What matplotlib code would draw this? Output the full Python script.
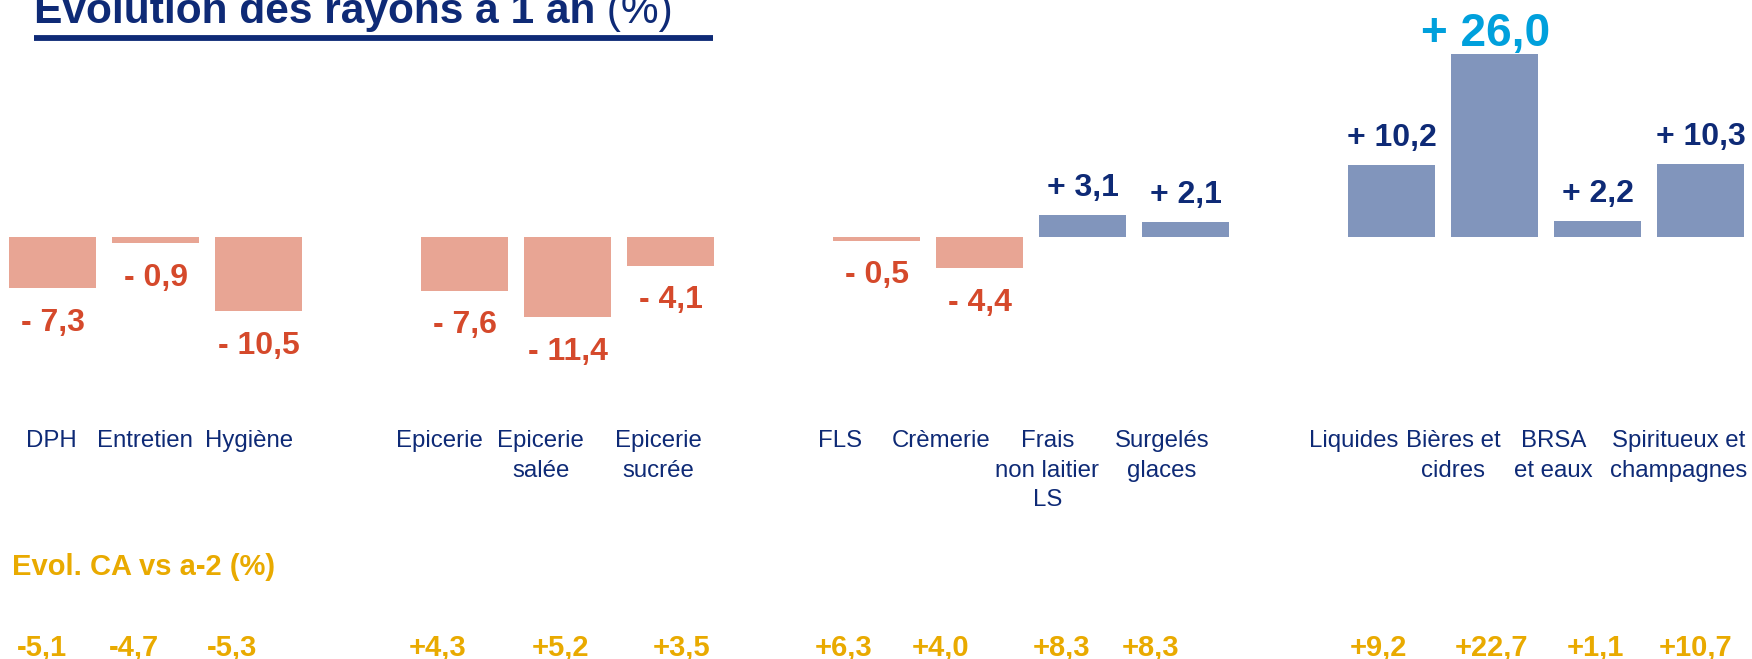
import numpy as np
import matplotlib
matplotlib.use("Agg")
import matplotlib.pyplot as plt

plt.rcParams['font.family'] = ['Liberation Sans', 'DejaVu Sans']

# data
categories = ["DPH", "Entretien", "Hygiène",
              "Epicerie", "Epicerie\nsalée", "Epicerie\nsucrée",
              "FLS", "Crèmerie", "Frais\nnon laitier\nLS", "Surgelés\nglaces",
              "Liquides", "Bières et\ncidres", "BRSA\net eaux", "Spiritueux et\nchampagnes"]
group_sizes = [3, 3, 4, 4]
evol_1an = [-7.3, -0.9, -10.5, -7.6, -11.4, -4.1, -0.5, -4.4, 3.1, 2.1, 10.2, 26.0, 2.2, 10.3]
evol_a2 = [-5.1, -4.7, -5.3, 4.3, 5.2, 3.5, 6.3, 4.0, 8.3, 8.3, 9.2, 22.7, 1.1, 10.7]

# layout nudges (slot units) for the text rows under the bars
cat_shift = [-0.01, -0.10, -0.09, -0.24, -0.26, -0.12, -0.35, -0.37, -0.34, -0.23,
             -0.37, -0.40, -0.43, -0.21]
a2_shift = [-0.10, -0.21, -0.26, -0.26, -0.07, 0.11, -0.32, -0.38, -0.20, -0.34,
            -0.13, -0.03, -0.02, -0.05]

NEG_BAR = "#E8A594"
POS_BAR = "#8195BC"
NEG_TXT = "#D5492B"
NAVY = "#0E2A76"
CYAN = "#00A0DC"
ORANGE = "#E9AA00"

# positions: one empty slot between groups
x = []
pos = 0
for g in group_sizes:
    for k in range(g):
        x.append(pos)
        pos += 1
    pos += 1
x = np.array(x)

W, H = 1752, 659
fig = plt.figure(figsize=(W / 100, H / 100), dpi=100)
ax = fig.add_axes([0, 0, 1, 1])
ax.set_xlim(-0.51, 16.5)
px_per_unit = 7.054
base_px = 237
ax.set_ylim(-(H - base_px) / px_per_unit, base_px / px_per_unit)
ax.axis('off')

vals = np.array(evol_1an)
colors = [POS_BAR if v > 0 else NEG_BAR for v in vals]
ax.bar(x, vals, width=0.836, color=colors, edgecolor='none')

imax = int(np.argmax(vals))
for i, v in enumerate(vals):
    txt = ("+ " if v > 0 else "- ") + f"{abs(v):.1f}".replace('.', ',')
    if i == imax:
        ax.annotate(txt, (x[i], v), xytext=(-9, 8), textcoords='offset pixels',
                    ha='center', va='baseline', fontsize=33, fontweight='bold', color=CYAN)
    elif v > 0:
        ax.annotate(txt, (x[i], v), xytext=(0, 19), textcoords='offset pixels',
                    ha='center', va='baseline', fontsize=23, fontweight='bold', color=NAVY)
    else:
        ax.annotate(txt, (x[i], v), xytext=(0, -42.5), textcoords='offset pixels',
                    ha='center', va='baseline', fontsize=23, fontweight='bold', color=NEG_TXT)

tr = ax.get_xaxis_transform()
for i, lab in enumerate(categories):
    ax.text(x[i] + cat_shift[i], 1 - 430 / H, lab, transform=tr, ha='center', va='top',
            fontsize=17.3, color=NAVY, linespacing=1.45, multialignment='center')

fig.text(12 / W, 1 - 575 / H, "Evol. CA vs a-2 (%)", ha='left', va='baseline',
         fontsize=21, fontweight='bold', color=ORANGE)

for i, v in enumerate(evol_a2):
    txt = f"{v:+.1f}".replace('.', ',')
    ax.text(x[i] + a2_shift[i], 1 - 655 / H, txt, transform=tr, ha='center', va='baseline',
            fontsize=21, fontweight='bold', color=ORANGE)

# title, cut at the top like the slide
t1 = fig.text(34 / W, 1 - 23.3 / H, "Evolution des rayons à 1 an", ha='left', va='baseline',
              fontsize=30.6, fontweight='bold', color=NAVY)
fig.canvas.draw()
bb = t1.get_window_extent()
fig.text(bb.x1 / W, 1 - 23.3 / H, " (%)", ha='left', va='baseline',
         fontsize=30.6, color=NAVY)
fig.add_artist(plt.Line2D([34 / W, 713 / W], [1 - 38 / H, 1 - 38 / H], color=NAVY, lw=4.2,
                          solid_capstyle='butt', transform=fig.transFigure))

fig.savefig("out.png", dpi=100)
